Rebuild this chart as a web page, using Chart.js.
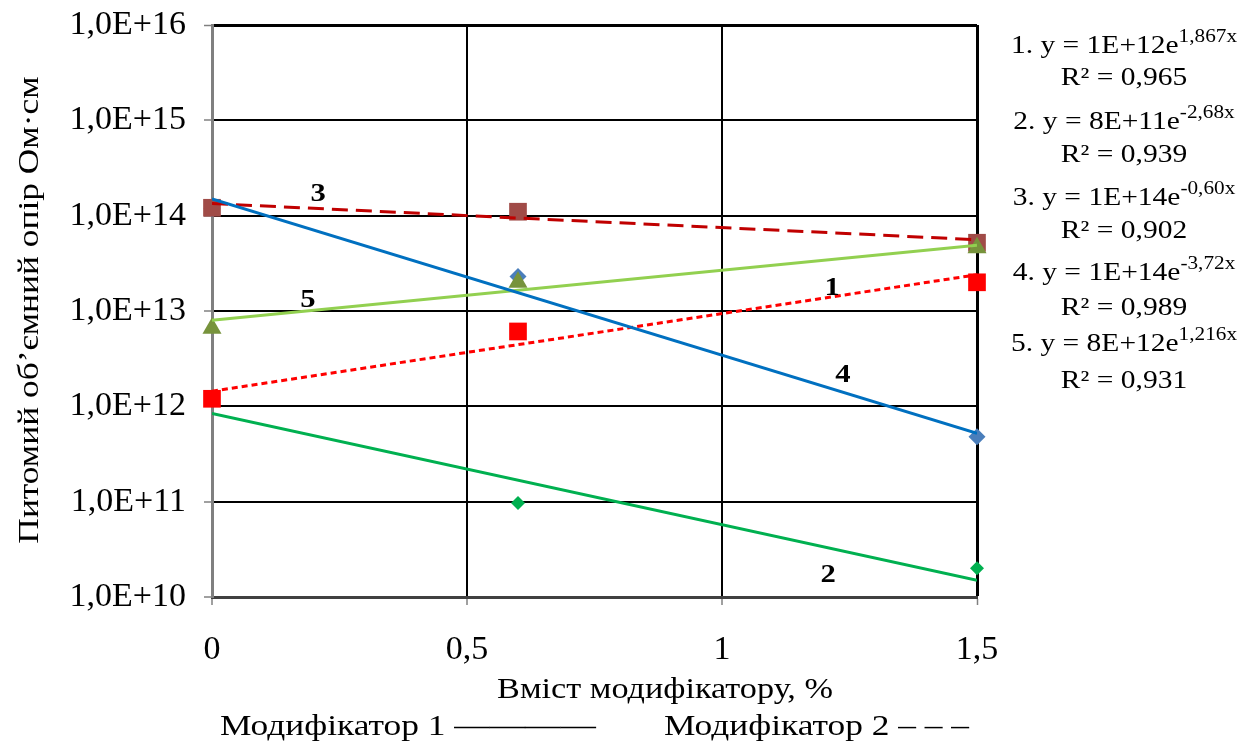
<!DOCTYPE html>
<html>
<head>
<meta charset="utf-8">
<script src="https://cdn.jsdelivr.net/npm/chart.js@4.4.0/dist/chart.umd.min.js"></script>
<style>
  body { margin: 0; background: #fff; }
</style>
</head>
<body>
<canvas id="chart" width="1244" height="744"></canvas>
<script>
// measured points
const xVals = [0, 0.6, 1.5];
const s1 = [1.2e12, 6.1e12, 2.0e13];   // червоні квадрати
const s2 = [1.25e12, 9.7e10, 2.0e10];  // зелені ромби
const s3 = [1.21e14, 1.1e14, 5.2e13];  // коричневі квадрати
const s4 = [1.18e14, 2.3e13, 4.8e11];  // сині ромби
const s5 = [6.6e12, 2.0e13, 4.6e13];   // трикутники

// trend lines (ends)
const trendX = [0, 1.5];
const t1 = [1.44e12, 2.4e13];
const t2 = [8.4e11, 1.5e10];
const t3 = [1.34e14, 5.6e13];
const t4 = [1.5e14, 5.2e11];
const t5 = [8.0e12, 4.9e13];

const yTicks = [1e10, 1e11, 1e12, 1e13, 1e14, 1e15, 1e16];
const xTicks = [0, 0.5, 1, 1.5];
const xTickLabels = ['0', '0,5', '1', '1,5'];

const curveLabels = ['1', '2', '3', '4', '5'];
const curveLabelX = [1.216, 1.208, 0.208, 1.237, 0.188];
const curveLabelY = [1.73e13, 1.7e10, 1.66e14, 2.1e12, 1.3e13];

const eqBase = ['1. y = 1E+12e', '2. y = 8E+11e', '3. y = 1E+14e', '4. y = 1E+14e', '5. y = 8E+12e'];
const eqExp = ['1,867x', '-2,68x', '-0,60x', '-3,72x', '1,216x'];
const eqR2 = ['R² = 0,965', 'R² = 0,939', 'R² = 0,902', 'R² = 0,989', 'R² = 0,931'];

const yTitle = 'Питомий об’ємний опір Ом·см';
const xTitle = 'Вміст модифікатору, %';
const legend1 = 'Модифікатор 1 ————';
const legend2 = 'Модифікатор 2 – – –';

const FONT = '"Liberation Serif", "Times New Roman", serif';
const SX = 1.18; // the source font is wider than Liberation Serif
const pts = ys => xVals.map((x, i) => ({x: x, y: ys[i]}));
const line = ys => trendX.map((x, i) => ({x: x, y: ys[i]}));

const trend = (data, color, dash, width) => ({
  type: 'line', data: line(data), borderColor: color, borderWidth: width || 3,
  borderDash: dash || [], pointRadius: 0, fill: false, order: 0
});
const marks = (data, color, style, r, order) => ({
  type: 'line', data: pts(data), showLine: false, pointStyle: style, clip: false,
  pointRadius: r, pointHoverRadius: r, pointBackgroundColor: color,
  pointBorderColor: color, pointBorderWidth: 0, order: order
});

function txt(c, s, x, y, size, align, bold) {
  c.save();
  c.font = (bold ? 'bold ' : '') + size + 'px ' + FONT;
  c.translate(x, y);
  c.scale(SX, 1);
  c.textAlign = align;
  c.textBaseline = 'middle';
  c.fillText(s, 0, 0);
  c.restore();
}
function width(c, s, size) {
  c.font = size + 'px ' + FONT;
  return c.measureText(s).width * SX;
}

const textPlugin = {
  id: 'texts',
  afterDraw(chart) {
    const c = chart.ctx;
    const xs = chart.scales.x, ys = chart.scales.y;
    c.save();
    c.fillStyle = '#000';

    // curve numbers
    curveLabels.forEach((t, i) => {
      txt(c, t, xs.getPixelForValue(curveLabelX[i]), ys.getPixelForValue(curveLabelY[i]), 26, 'center', true);
    });

    // equations on the right
    const eqY = [46, 78, 122, 155, 198, 231, 273, 308, 344, 381];
    const cx = 1124;
    eqBase.forEach((b, i) => {
      const wb = width(c, b, 25);
      const we = width(c, eqExp[i], 18);
      const x0 = cx - (wb + we) / 2;
      txt(c, b, x0, eqY[i * 2], 25, 'left');
      txt(c, eqExp[i], x0 + wb, eqY[i * 2] - 9, 18, 'left');
      txt(c, eqR2[i], cx, eqY[i * 2 + 1], 25, 'center');
    });

    // axis titles
    txt(c, xTitle, 665, 690, 29, 'center');
    c.save();
    c.translate(30, 310);
    c.rotate(-Math.PI / 2);
    txt(c, yTitle, 0, 0, 30, 'center');
    c.restore();

    // legend line
    txt(c, legend1, 220, 727, 30, 'left');
    txt(c, legend2, 664, 727, 30, 'left');
    c.restore();
  }
};

new Chart(document.getElementById('chart'), {
  type: 'line',
  data: {
    datasets: [
      trend(t4, '#0070C0'),
      trend(t2, '#00B050'),
      trend(t5, '#92D050'),
      trend(t1, '#FF0000', [6, 4]),
      trend(t3, '#C00000', [16, 8]),
      marks(s5, '#77933C', 'triangle', 11, 1),
      marks(s1, '#FF0000', 'rect', 12.5, 2),
      marks(s3, '#A04B47', 'rect', 12.5, 2),
      marks(s4, '#4A7EBB', 'rectRot', 8.5, 3),
      marks(s2, '#00B050', 'rectRot', 7, 3)
    ]
  },
  options: {
    responsive: false,
    animation: false,
    devicePixelRatio: 1,
    layout: { padding: { left: 0, right: 267, top: 25, bottom: 0 } },
    plugins: { legend: { display: false }, tooltip: { enabled: false } },
    scales: {
      x: {
        type: 'linear', min: 0, max: 1.5,
        afterBuildTicks: s => { s.ticks = xTicks.map(v => ({value: v})); },
        afterFit: s => { s.height = 147; s.paddingLeft = 0; s.paddingRight = 0; },
        ticks: {
          font: { family: FONT, size: 34, lineHeight: 1 }, color: '#000', padding: 28,
          maxRotation: 0, autoSkip: false,
          callback: (v) => xTickLabels[xTicks.indexOf(v)]
        },
        grid: {
          color: ctx => ctx.tick && ctx.tick.value === 0 ? 'rgba(0,0,0,0)' : '#000',
          lineWidth: ctx => ctx.tick && ctx.tick.value === 1.5 ? 3 : 2,
          tickColor: '#808080', tickLength: 8, tickWidth: 1.5
        },
        border: { color: '#404040', width: 3 }
      },
      y: {
        type: 'logarithmic', min: 1e10, max: 1e16,
        afterBuildTicks: s => { s.ticks = yTicks.map(v => ({value: v})); },
        afterFit: s => { s.width = 212; s.paddingTop = 0; s.paddingBottom = 0; },
        ticks: {
          font: { family: FONT, size: 34, lineHeight: 1 }, color: '#000', padding: 18, autoSkip: false,
          callback: (v) => '1,0E+' + Math.round(Math.log10(v))
        },
        grid: {
          color: ctx => ctx.tick && ctx.tick.value === 1e10 ? 'rgba(0,0,0,0)' : '#000',
          lineWidth: ctx => ctx.tick && ctx.tick.value === 1e16 ? 3 : 2,
          tickColor: '#808080', tickLength: 8, tickWidth: 1.5
        },
        border: { color: '#808080', width: 3 }
      }
    }
  },
  plugins: [textPlugin]
});
</script>
</body>
</html>
